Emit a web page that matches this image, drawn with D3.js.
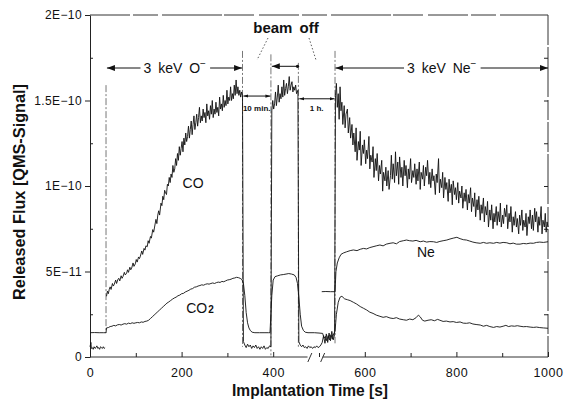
<!DOCTYPE html>
<html>
<head>
<meta charset="utf-8">
<script src="https://cdn.jsdelivr.net/npm/d3@7"></script>
<style>
  body { margin: 0; background: #fff; }
  text { font-family: "Liberation Sans", Arial, sans-serif; fill: #111; }
</style>
</head>
<body>
<svg id="chart" width="564" height="402"></svg>
<script>
// values in units of 1E-11 (QMS signal), time in s
var yTicks = [0, 5, 10, 15, 20];
var yTickLabels = ["0", "5E\u221211", "1E\u221210", "1.5E\u221210", "2E\u221210"];
var yMinor = [2.5, 7.5, 12.5, 17.5];
var xTicks = [0, 200, 400, 600, 800, 1000];
var xMinor = [100, 300, 500, 700, 900];

var coData = [
  [0,0.6],[2,0.85],[3,0.5],[5,0.55],[7,0.45],[9,0.6],[11,0.5],[13,0.55],[15,0.65],[17,0.5],
  [19,0.55],[21,0.45],[23,0.6],[25,0.55],[27,0.5],[29,0.6],[31,0.5],[33,0.55],[35,null],
  [36,3.55],[38,3.85],[40,3.7],[42,3.95],[44,4.1],[46,3.95],[49,4.3],[51,4.15],[53,4.25],[56,4.5],
  [58,4.3],[61,4.55],[63,4.6],[65,4.45],[68,4.75],[70,4.6],[72,4.7],[75,4.95],[77,4.8],[80,4.9],
  [82,5.1],[84,4.95],[87,5.25],[89,5.1],[91,5.2],[94,5.5],[96,5.3],[99,5.45],[101,5.7],[103,5.55],
  [106,5.85],[108,5.75],[110,5.9],[113,6.2],[115,6.0],[118,6.35],[120,6.25],[122,6.5],[125,6.45],
  [127,6.8],[129,6.65],[132,7.05],[134,6.95],[137,7.45],[139,7.3],[141,7.6],[144,8.05],[146,7.8],
  [148,8.3],[150,8.55],[152,8.3],[155,9.0],[157,8.85],[159,9.4],[161,9.2],[163,9.75],[165,9.6],
  [167,9.5],[169,10.1],[171,10.0],[173,10.5],[175,10.2],[177,10.7],[179,10.5],[181,11.2],[183,10.8],
  [185,11.0],[187,11.6],[189,11.2],[191,11.9],[193,11.5],[195,12.3],[197,11.8],[199,12.2],[201,12.6],
  [203,12.0],[205,12.8],[207,12.4],[209,13.1],[211,12.6],[213,12.9],[215,13.5],[217,12.8],[219,13.3],
  [221,13.8],[223,13.0],[225,13.6],[227,14.1],[229,13.3],[231,13.7],[233,14.2],[235,13.5],[237,14.0],
  [239,14.6],[241,13.7],[243,14.1],[245,13.8],[247,14.5],[249,14.0],[251,14.3],[253,13.7],[255,14.8],
  [257,14.1],[259,14.4],[261,13.9],[263,14.7],[265,14.2],[267,15.0],[269,14.0],[271,14.5],[273,14.2],
  [275,14.9],[277,14.3],[279,14.6],[281,14.1],[283,15.2],[285,14.5],[287,14.8],[289,14.4],[291,15.3],
  [293,14.6],[295,15.0],[297,14.7],[299,15.6],[301,14.8],[303,15.2],[305,15.0],[307,15.8],[309,15.0],
  [311,15.4],[313,15.1],[315,15.9],[317,15.3],[319,16.2],[321,15.4],[323,15.8],[325,15.3],[327,15.6],
  [329,15.2],[331,15.5],[333,15.3],[335,0.9],
  [338,0.7],[341,0.55],[344,0.75],[347,0.6],[350,0.7],[353,0.5],[356,0.65],[359,0.55],[362,0.7],
  [365,0.5],[368,0.6],[371,0.45],[374,0.6],[377,0.5],[380,0.65],[383,0.45],[386,0.55],[389,0.5],
  [392,0.65],[395,0.6],
  [397,14.4],[399,15.0],[401,14.5],[403,14.8],[405,15.5],[407,14.7],[409,15.2],[411,15.9],[413,14.9],
  [415,15.4],[417,15.1],[419,15.8],[421,15.2],[423,16.2],[425,15.3],[427,15.7],[429,16.0],[431,15.4],
  [433,15.8],[435,16.4],[437,15.6],[439,15.9],[441,16.1],[443,15.5],[445,15.8],[447,15.6],[449,15.9],
  [451,15.4],[454,15.6],[456,0.9],
  [459,0.7],[462,0.6],[465,0.7],[468,0.55],[471,0.6],[474,0.5],[477,0.65],[480,0.55],[483,0.6],
  [486,0.5],[489,0.6],[492,0.55],[495,0.65],[498,0.55],[501,0.6],[504,0.7],[507,0.85],[510,1.25],
  [513,0.8],[516,1.35],[519,0.85],[522,1.4],[525,0.95],[528,1.5],[531,1.0],[534,1.3],
  [536,15.3],[538,16.0],[540,14.6],[542,15.4],[544,13.9],[546,15.8],[548,14.4],[550,14.9],[552,13.6],
  [555,14.7],[557,13.4],[559,14.2],[562,14.5],[564,13.1],[567,14.0],[569,12.8],[572,13.6],[574,12.4],
  [576,13.1],[579,12.0],[581,13.4],[583,11.5],[586,12.6],[588,12.1],[590,13.2],[592,11.2],[595,12.4],
  [597,11.9],[599,12.7],[602,11.3],[604,12.1],[606,11.6],[609,12.9],[611,11.0],[613,11.8],[616,11.4],
  [618,12.3],[620,10.5],[623,11.6],[625,10.9],[627,11.9],[630,10.3],[632,11.2],[634,10.7],[637,11.5],
  [639,9.7],[641,10.8],[644,10.3],[646,11.1],[648,10.0],[651,10.9],[653,9.8],[656,10.6],[658,11.8],
  [660,10.4],[662,11.3],[665,10.2],[667,12.0],[669,10.6],[672,11.4],[674,10.1],[676,11.7],[679,10.5],
  [681,11.1],[683,10.0],[686,11.5],[688,10.6],[690,11.2],[693,9.9],[695,11.0],[697,10.4],[700,11.6],
  [702,10.2],[705,10.9],[707,10.5],[709,11.3],[712,10.1],[714,11.0],[716,10.3],[719,11.4],[721,9.8],
  [723,10.8],[726,10.4],[728,11.2],[730,10.0],[733,11.1],[735,10.6],[737,11.5],[740,10.1],[742,10.8],
  [744,9.9],[747,11.0],[749,10.3],[751,10.6],[754,9.5],[756,10.7],[758,10.2],[761,11.6],[763,9.6],
  [765,10.4],[768,9.9],[770,10.8],[772,9.3],[775,10.5],[777,9.8],[779,10.2],[782,9.1],[784,10.4],
  [786,9.6],[789,10.1],[791,8.9],[793,10.3],[796,9.5],[798,9.9],[800,9.2],[803,10.2],[805,9.0],
  [807,9.7],[810,9.3],[812,10.0],[814,8.7],[817,9.6],[819,9.1],[821,9.8],[824,8.6],[826,9.5],
  [828,9.0],[831,9.9],[833,8.5],[835,9.3],[838,8.8],[840,9.6],[842,8.2],[845,9.2],[847,8.6],
  [849,9.4],[852,8.0],[854,8.9],[856,8.4],[859,9.3],[861,7.9],[863,8.8],[866,8.3],[868,9.1],
  [870,7.6],[873,8.6],[875,8.0],[877,8.9],[880,7.5],[882,8.4],[884,7.9],[887,8.8],[889,7.7],
  [891,8.5],[894,7.9],[896,9.0],[898,7.6],[901,8.3],[903,7.8],[905,8.7],[908,8.2],[910,8.9],
  [912,7.5],[915,8.4],[917,7.9],[919,8.8],[922,7.3],[924,8.2],[926,7.7],[929,8.5],[931,7.6],
  [933,8.1],[936,7.2],[938,8.3],[940,7.7],[943,8.6],[945,7.4],[947,8.0],[950,7.6],[952,8.4],
  [954,7.1],[957,8.2],[959,7.8],[961,8.6],[964,7.5],[966,8.3],[968,7.4],[971,8.7],[973,7.9],
  [975,8.5],[978,7.3],[980,8.2],[982,7.7],[985,8.8],[987,7.2],[989,8.0],[992,7.6],[994,8.4],
  [996,7.3],[998,7.9],[1000,7.6]
];

var co2Data = [
  [0,1.42],[10,1.43],[20,1.42],[30,1.42],[35,1.42],[36,1.7],[40,1.72],[44,1.78],[48,1.8],
  [52,1.85],[56,1.82],[60,1.88],[64,1.9],[68,1.87],[72,1.92],[76,1.95],[80,1.92],[84,1.98],
  [88,1.95],[92,2.0],[96,1.97],[100,2.0],[104,2.02],[108,2.0],[112,2.05],[116,2.03],[120,2.08],
  [124,2.1],[128,2.15],[132,2.25],[136,2.35],[140,2.45],[144,2.55],[148,2.65],[152,2.75],
  [156,2.85],[160,2.95],[164,3.05],[168,3.15],[172,3.22],[176,3.3],[180,3.38],[184,3.45],
  [188,3.5],[192,3.58],[196,3.62],[200,3.7],[204,3.72],[208,3.8],[212,3.85],[216,3.9],
  [220,3.97],[224,4.0],[228,4.08],[232,4.1],[236,4.15],[240,4.18],[244,4.22],[248,4.2],
  [252,4.25],[256,4.28],[260,4.26],[264,4.3],[268,4.33],[272,4.3],[276,4.35],[280,4.38],
  [284,4.36],[288,4.42],[292,4.4],[296,4.45],[300,4.5],[304,4.52],[308,4.55],[312,4.6],
  [316,4.62],[320,4.66],[324,4.64],[328,4.6],[332,4.52],[335,4.3],[338,3.6],[341,2.6],
  [344,2.0],[347,1.7],[350,1.55],[354,1.45],[360,1.42],[370,1.42],[380,1.42],[390,1.42],
  [393,1.42],[395,2.5],[397,3.6],[400,4.5],[404,4.7],[410,4.75],[416,4.8],[422,4.82],
  [428,4.85],[434,4.88],[440,4.85],[446,4.8],[450,4.65],[453,4.3],[456,3.5],[459,2.5],
  [462,1.8],[466,1.55],[470,1.45],[476,1.42],[490,1.42],[500,1.4],[508,1.38],[511,1.1],
  [514,1.2],[517,0.95],[520,1.25],[523,1.0],[526,1.3],[529,1.05],[532,1.35],[535,1.5],
  [538,2.5],[542,3.2],[546,3.5],[550,3.55],[556,3.4],[562,3.35],[568,3.3],[575,3.2],
  [582,3.1],[590,2.95],[597,2.85],[604,2.75],[611,2.62],[618,2.55],[625,2.45],[633,2.38],
  [640,2.32],[647,2.36],[655,2.28],[662,2.25],[669,2.3],[676,2.22],[684,2.18],[691,2.15],
  [698,2.22],[705,2.18],[712,2.3],[717,2.45],[721,2.35],[726,2.15],[731,2.1],[738,2.15],
  [745,2.18],[752,2.12],[759,2.2],[764,2.15],[771,2.08],[778,2.1],[786,2.05],[793,2.07],
  [800,2.02],[808,2.05],[815,1.98],[822,1.97],[829,2.0],[836,1.93],[843,1.9],[852,1.87],
  [859,1.8],[866,1.85],[873,1.78],[881,1.73],[888,1.78],[895,1.75],[902,1.8],[908,1.85],
  [914,1.78],[920,1.82],[927,1.8],[933,1.83],[939,1.8],[946,1.77],[953,1.78],[961,1.75],
  [968,1.73],[975,1.75],[982,1.72],[990,1.7],[1000,1.68]
];

var neData = [
  [506,3.82],[515,3.83],[525,3.82],[535,3.82],[537,5.0],[540,5.5],[544,5.8],[548,6.0],
  [553,6.08],[560,6.15],[568,6.22],[575,6.26],[583,6.22],[590,6.3],[597,6.35],[604,6.32],
  [611,6.4],[618,6.45],[625,6.5],[633,6.55],[640,6.5],[647,6.6],[655,6.65],[662,6.68],
  [669,6.62],[676,6.75],[684,6.8],[691,6.84],[698,6.8],[705,6.78],[712,6.82],[721,6.74],
  [728,6.78],[735,6.72],[742,6.75],[750,6.74],[757,6.7],[764,6.76],[771,6.8],[779,6.84],
  [786,6.9],[793,6.95],[801,7.0],[808,6.92],[815,6.86],[822,6.84],[829,6.78],[836,6.72],
  [843,6.68],[852,6.65],[859,6.7],[866,6.65],[873,6.68],[881,6.65],[888,6.7],[895,6.66],
  [902,6.7],[910,6.68],[917,6.62],[924,6.66],[931,6.6],[939,6.6],[946,6.64],[953,6.62],
  [961,6.66],[968,6.65],[975,6.7],[982,6.72],[990,6.7],[1000,6.74]
];

// vertical guide lines: time, top, bottom
var guideTimes = [35, 333, 395, 455, 535];
var guideTop = [15.9, 17.9, 17.7, 17.2, 17.9];
var guideBottom = [1.4, 0.6, 0.1, 0.6, 0.8];

var svg = d3.select("#chart");
svg.append("rect").attr("width", 564).attr("height", 402).attr("fill", "#fff");

var defs = svg.append("defs");
defs.append("marker")
  .attr("id", "arr")
  .attr("viewBox", "0 0 8 6")
  .attr("refX", 8).attr("refY", 3)
  .attr("markerWidth", 8).attr("markerHeight", 6)
  .attr("markerUnits", "userSpaceOnUse")
  .attr("orient", "auto-start-reverse")
  .append("path").attr("d", "M0,0 L8,3 L0,6 Z").attr("fill", "#111");
defs.append("marker")
  .attr("id", "arrS")
  .attr("viewBox", "0 0 6 4")
  .attr("refX", 6).attr("refY", 2)
  .attr("markerWidth", 5).attr("markerHeight", 4)
  .attr("markerUnits", "userSpaceOnUse")
  .attr("orient", "auto-start-reverse")
  .append("path").attr("d", "M0,0 L6,2 L0,4 Z").attr("fill", "#111");

var x = d3.scaleLinear().domain([0, 1000]).range([90, 548]);
var y = d3.scaleLinear().domain([0, 20]).range([357, 15]);

// frame
var frame = svg.append("g").attr("stroke", "#333").attr("stroke-width", 1).attr("fill", "none");
frame.append("line").attr("x1", x(0)).attr("x2", x(1000)).attr("y1", y(20)).attr("y2", y(20))
  .attr("stroke-dasharray", "40,3,25,4,60,2,30,5");
frame.append("line").attr("x1", x(1000)).attr("x2", x(1000)).attr("y1", y(20)).attr("y2", y(0))
  .attr("stroke-dasharray", "30,2,50,3,20,2");
// bottom axis line with break
frame.append("line").attr("x1", x(0)).attr("x2", x(475)).attr("y1", y(0)).attr("y2", y(0));
frame.append("line").attr("x1", x(508)).attr("x2", x(1000)).attr("y1", y(0)).attr("y2", y(0));
[480, 508].forEach(function(t){
  frame.append("line")
    .attr("x1", x(t) - 2).attr("y1", y(0) + 5)
    .attr("x2", x(t) + 2).attr("y2", y(0) - 4);
});

// left axis
var yAxis = svg.append("g").attr("transform", "translate(" + x(0) + ",0)")
  .call(d3.axisLeft(y).tickValues(yTicks).tickFormat(function(d, i){ return yTickLabels[i]; })
    .tickSize(5).tickSizeOuter(0).tickPadding(3));
yAxis.selectAll("text").attr("font-size", 12).style("letter-spacing", "0.4px");
svg.append("g").attr("transform", "translate(" + x(0) + ",0)")
  .call(d3.axisRight(y).tickValues(yMinor).tickSize(3).tickFormat(""))
  .select(".domain").remove();
svg.append("g").attr("transform", "translate(" + x(1000) + ",0)")
  .call(d3.axisLeft(y).tickValues(yMinor.concat([5, 10, 15])).tickSize(4).tickFormat(""))
  .select(".domain").remove();

// bottom axis
var xAxis = svg.append("g").attr("transform", "translate(0," + y(0) + ")")
  .call(d3.axisBottom(x).tickValues(xTicks).tickFormat(d3.format("d"))
    .tickSize(-5).tickSizeOuter(0).tickPadding(11));
xAxis.select(".domain").remove();
xAxis.selectAll("text").attr("font-size", 12.5).style("letter-spacing", "0.5px");
svg.append("g").attr("transform", "translate(0," + y(0) + ")")
  .call(d3.axisBottom(x).tickValues(xMinor).tickSize(-4).tickFormat(""))
  .select(".domain").remove();
svg.selectAll(".tick line").attr("stroke", "#222");
svg.selectAll(".domain").attr("stroke", "#222");

// guide lines
svg.append("g").selectAll("line").data(guideTimes).enter().append("line")
  .attr("x1", function(d){ return x(d); }).attr("x2", function(d){ return x(d); })
  .attr("y1", function(d, i){ return y(guideTop[i]); })
  .attr("y2", function(d, i){ return y(guideBottom[i]); })
  .attr("stroke", "#555").attr("stroke-width", 0.8).attr("stroke-dasharray", "7,2,2,2");

// traces
var line = d3.line()
  .defined(function(d){ return d[1] !== null; })
  .x(function(d){ return x(d[0]); })
  .y(function(d){ return y(d[1]); });

[coData, co2Data, neData].forEach(function(s, i){
  svg.append("path").datum(s)
    .attr("d", line)
    .attr("fill", "none")
    .attr("stroke", "#111")
    .attr("stroke-width", i === 0 ? 0.9 : 0.9)
    .attr("stroke-linejoin", "round");
});

// labels on traces
svg.append("text").attr("x", x(202)).attr("y", y(9.9)).attr("font-size", 14).text("CO");
var co2 = svg.append("text").attr("x", x(210)).attr("y", y(2.6)).attr("font-size", 14).text("CO");
co2.append("tspan").attr("font-size", 10).attr("font-weight", "bold").attr("dx", 1).text("2");
svg.append("text").attr("x", x(714)).attr("y", y(5.85)).attr("font-size", 14).text("Ne");

// top annotations
function spanArrow(t1, t2, v, label, midT){
  var g = svg.append("g");
  var tx = g.append("text").attr("x", x(midT)).attr("y", y(v) + 5)
    .attr("text-anchor", "middle").attr("font-size", 14).style("word-spacing", "3px")
    .text(label);
  tx.append("tspan").attr("font-size", 10).attr("dy", -6).text("\u2212");
  var bb = tx.node().getBBox();
  g.append("line").attr("x1", bb.x - 3).attr("x2", x(t1)).attr("y1", y(v)).attr("y2", y(v))
    .attr("stroke", "#111").attr("marker-end", "url(#arr)");
  g.append("line").attr("x1", bb.x + bb.width + 4).attr("x2", x(t2)).attr("y1", y(v)).attr("y2", y(v))
    .attr("stroke", "#111").attr("marker-end", "url(#arr)");
}
spanArrow(37, 332, 16.9, "3 keV O", 185);
spanArrow(536, 1000, 16.9, "3 keV Ne", 768);

// beam off
svg.append("text").attr("x", x(428)).attr("y", 33).attr("text-anchor", "middle")
  .attr("font-size", 15).attr("font-weight", "bold").style("word-spacing", "3px").text("beam off");
svg.append("line").attr("x1", x(397)).attr("x2", x(451)).attr("y1", y(17.0)).attr("y2", y(17.0))
  .attr("stroke", "#111").attr("marker-start", "url(#arr)");
svg.append("circle").attr("cx", x(453)).attr("cy", y(17.0)).attr("r", 1.6).attr("fill", "#111");
svg.append("line").attr("x1", 268).attr("y1", 38).attr("x2", 257).attr("y2", 60)
  .attr("stroke", "#333").attr("stroke-width", 0.8).attr("stroke-dasharray", "1.5,2");
svg.append("line").attr("x1", 309).attr("y1", 38).attr("x2", 316).attr("y2", 60)
  .attr("stroke", "#333").attr("stroke-width", 0.8).attr("stroke-dasharray", "1.5,2");

// 10 min. / 1 h. markers
svg.append("line").attr("x1", x(335)).attr("x2", x(394)).attr("y1", y(15.26)).attr("y2", y(15.26))
  .attr("stroke", "#111").attr("marker-start", "url(#arrS)").attr("marker-end", "url(#arrS)");
svg.append("line").attr("x1", x(457)).attr("x2", x(534)).attr("y1", y(15.1)).attr("y2", y(15.1))
  .attr("stroke", "#111").attr("marker-start", "url(#arrS)").attr("marker-end", "url(#arrS)");
svg.append("text").attr("x", x(364)).attr("y", y(14.4)).attr("text-anchor", "middle")
  .attr("font-size", 8).attr("font-weight", "bold").text("10 min.");
svg.append("text").attr("x", x(495)).attr("y", y(14.4)).attr("text-anchor", "middle")
  .attr("font-size", 8).attr("font-weight", "bold").text("1 h.");

// axis titles
svg.append("text").attr("x", 310).attr("y", 396).attr("text-anchor", "middle")
  .attr("font-size", 17).attr("font-weight", "bold")
  .attr("textLength", 156).attr("lengthAdjust", "spacingAndGlyphs")
  .text("Implantation Time  [s]");
svg.append("text").attr("transform", "translate(25,192) rotate(-90)")
  .attr("text-anchor", "middle").attr("font-size", 17).attr("font-weight", "bold")
  .attr("textLength", 216).attr("lengthAdjust", "spacingAndGlyphs")
  .text("Released Flux [QMS-Signal]");
</script>
</body>
</html>
